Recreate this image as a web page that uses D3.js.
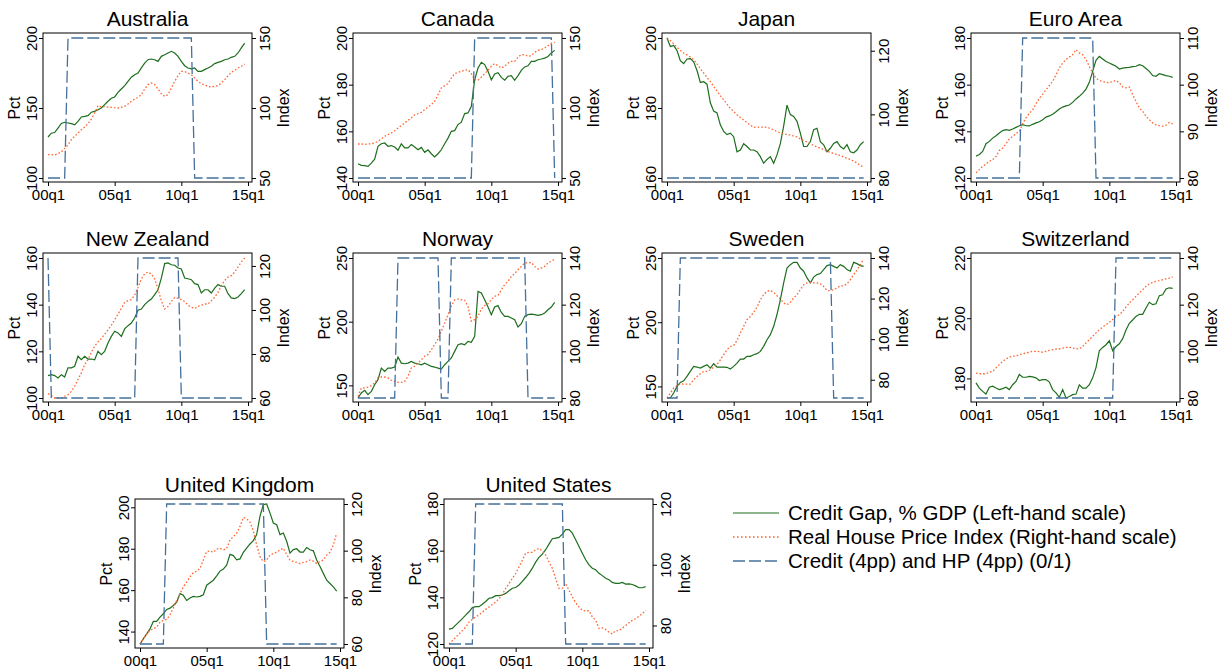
<!DOCTYPE html>
<html><head><meta charset="utf-8">
<script src="https://cdn.jsdelivr.net/npm/d3@7"></script>
<style>body{margin:0;background:#fff;} svg{display:block;}</style>
</head><body><svg id="c" width="1225" height="669"></svg>
<script>
// ---------- DATA ----------
const quarters = d3.range(60); // 2000q1 .. 2014q4
const xTicks = [0, 20, 40, 60];
const xTickLabels = ["00q1", "05q1", "10q1", "15q1"];
const countries = ["Australia","Canada","Japan","Euro Area","New Zealand","Norway","Sweden","Switzerland","United Kingdom","United States"];
const legendLabels = ["Credit Gap, % GDP (Left-hand scale)","Real House Price Index (Right-hand scale)","Credit (4pp) and HP (4pp) (0/1)"];

const ausCredit = [129.3,132,132.5,135.7,139,139.8,139.3,138.8,138,140.5,143.6,144,144.5,147,147.6,148.8,150,152.4,154.8,157,157.9,161.2,163.6,166,169,172,173.8,175,178.6,182,184.5,185,184.5,183.3,186.9,188,189.3,190.5,189.3,186.9,183.3,180.2,178.6,177.9,178.6,176.2,176.2,177.4,178.6,179.8,181.7,182.6,183.3,184.5,185,186.2,186.9,189.3,192.9,196.4];
const ausHP = [66.7,66.7,66.4,67.4,68.6,71,73.8,77.4,79.8,82.1,84.5,86.4,88.8,92.1,96.4,101.7,100.7,101,100.7,100.5,100.2,100,100.5,101.2,102.9,104.8,106.4,107.6,109.5,113.6,116.7,117.9,116.7,113.6,110.2,108.3,109.5,114.3,119,123.1,126.2,126,125,123.8,121.4,119,117.4,116.4,115.5,115,115.5,116,117.9,120.2,123.1,125.5,126.9,128.6,129.8,131.4];
const ausInd = [0,0,0,0,0,0,1,1,1,1,1,1,1,1,1,1,1,1,1,1,1,1,1,1,1,1,1,1,1,1,1,1,1,1,1,1,1,1,1,1,1,1,1,1,0,0,0,0,0,0,0,0,0,0,0,0,0,0,0,0];
const ausLeftTicks = [100,150,200], ausRightTicks = [50,100,150];

const canCredit = [146.1,145.4,145.3,145,146.4,148.1,153.6,154.7,155,153.6,153.9,153.3,151.9,154.6,152.9,152.9,154.3,153.3,152.1,153.1,151,152.1,150.4,149,150.4,152.1,154.7,157.1,160,160.3,162.9,163.9,167.6,167.9,170.7,182.1,187.1,189.6,188.6,185.7,182.1,184.6,185.1,183.1,181.9,183.6,183.9,181.9,183.9,186.1,187.6,188.1,190,190,190.7,191,191.4,192.1,193.6,194.7];
const canHP = [74.3,74.3,74,74.3,74.5,75,76.2,77.9,79.8,81,82.1,83.8,85.7,87.4,89.3,91.2,92.9,95.2,96,96.9,98.8,100.7,102.4,104.8,109.5,114.3,116,117.4,121.4,124.5,125.5,126.2,126.9,127.4,124.5,120.2,119.8,122.1,124.5,126.9,129.8,131.7,130.2,128.6,129.8,132.1,133.3,133.3,136.4,138.1,138.1,136.9,137.4,139.8,141.2,141.7,142.9,144.5,146.4,146.9];
const canInd = [0,0,0,0,0,0,0,0,0,0,0,0,0,0,0,0,0,0,0,0,0,0,0,0,0,0,0,0,0,0,0,0,0,0,0,1,1,1,1,1,1,1,1,1,1,1,1,1,1,1,1,1,1,1,1,1,1,1,1,0];
const canLeftTicks = [140,160,180,200], canRightTicks = [50,100,150];

const jpnCredit = [200,197.6,197.9,196.4,193.5,192.7,194,194.1,193.2,190.7,187.3,187.5,186.8,181.5,179.1,178.6,175.2,173.3,172.4,172.8,171.8,167.5,168,169.8,169,168,168,167.5,166.1,164.2,165.3,166.1,164.2,166.6,169.8,174.8,180.8,178.1,177.6,176.2,172.8,169,169,170.4,173.8,174.2,170.4,169.5,167.5,168.5,169.9,170.4,169,168.3,169.5,167.5,167.2,168,169.5,170.4];
const jpnHP = [124,123.2,122.2,121.1,120.1,119.3,118.7,118,117.2,115.9,114.3,113,111.6,110.3,108.8,107.4,105.8,104.6,103.2,101.9,100.9,99.9,99,98.2,97.4,96.6,95.9,96,96,96,95.9,95.6,95.1,94.6,94.2,93.9,93.7,93.5,93.2,92.9,92.3,91.8,91.3,90.8,90.2,89.8,89.3,89,88.4,88.1,87.7,87.4,87.1,86.6,86.2,85.8,85.3,84.7,83.9,83.5];
const jpnInd = [0,0,0,0,0,0,0,0,0,0,0,0,0,0,0,0,0,0,0,0,0,0,0,0,0,0,0,0,0,0,0,0,0,0,0,0,0,0,0,0,0,0,0,0,0,0,0,0,0,0,0,0,0,0,0,0,0,0,0,0];
const jpnLeftTicks = [160,180,200], jpnRightTicks = [80,100,120];

const eurCredit = [129.3,130.1,131.4,134.7,135.7,137.1,138.1,139.3,140.3,140.7,140.4,141,141.7,142.4,142.9,142.4,142.3,143,143.6,144.1,145,146.1,146.6,147.3,148.4,149.6,150.4,150.9,151.3,152.4,153.9,155,156.4,158.1,161,165.7,170.4,172.1,171,169.9,169.3,168.6,167.9,166.7,167.1,167.3,167.4,167.7,167.9,168.6,168.1,166.9,165.7,163.9,163.6,164.7,164.3,163.9,163.6,163.1];
const eurHP = [81.1,81.8,82.5,83,83.6,83.9,84.6,85.9,86.4,87.3,88.4,88.9,89.5,90,91.6,92.9,93.9,94.6,95.9,97.1,97.9,98.9,99.8,100.7,102.1,103.6,104.6,105.4,105.9,106.4,107.5,106.8,106.4,105.4,103.9,102.5,101.4,100.9,100.7,100.5,100.4,100.7,100.9,100.4,99.5,99.3,99.5,97.9,96.4,95,94.3,93.2,92.5,91.8,91.4,91.2,91.1,91.3,91.9,91.6];
const eurInd = [0,0,0,0,0,0,0,0,0,0,0,0,0,0,1,1,1,1,1,1,1,1,1,1,1,1,1,1,1,1,1,1,1,1,1,1,0,0,0,0,0,0,0,0,0,0,0,0,0,0,0,0,0,0,0,0,0,0,0,0];
const eurLeftTicks = [120,140,160,180], eurRightTicks = [80,90,100,110];

const nzlCredit = [109.6,110,109.6,108.6,110,109,112.9,112.9,113.6,117.9,116.4,117.9,116.7,116.7,116.4,120,118.6,120,123.6,126.4,128.6,127.9,126.4,129.6,131,132.1,134.3,137.6,138.1,140,141.4,142.4,144.3,146.4,151.4,157.6,157.9,157.1,156.9,155.7,155.3,151.4,151.1,150.7,149,148.6,145,146.4,146.4,145,147.1,148.6,147.9,147.9,144.7,142.9,142.6,143.3,144.7,146.4];
const nzlHP = [62,61.1,60,60,60,60.8,61.5,63,65.3,68.4,71.4,75.2,77.5,80.6,83.6,85.5,87,89,90.9,93.1,95.5,98.1,100.7,103.4,104.2,104.7,106.8,110.3,114.1,116.4,117.2,116.4,114.1,109.5,104.2,100.4,101.6,103.8,105.7,105.3,104.7,103.8,102.2,101.2,100.7,101.6,102.2,102.7,102.7,104.2,105.7,108,111.1,113.4,114.9,115.6,117.2,119.5,121.8,123.6];
const nzlInd = [1,0,0,0,0,0,0,0,0,0,0,0,0,0,0,0,0,0,0,0,0,0,0,0,0,0,0,1,1,1,1,1,1,1,1,1,1,1,1,1,0,0,0,0,0,0,0,0,0,0,0,0,0,0,0,0,0,0,0,0];
const nzlLeftTicks = [100,120,140,160], nzlRightTicks = [60,80,100,120];

const norCredit = [140.1,144,146.1,142.7,145.3,150.5,154.5,163.6,161,163.6,163.6,164.4,172.3,167.5,167,167.5,168.8,167.5,167,166.2,167.5,166.2,164.9,164.4,163.6,162.8,166.2,168.8,171.5,176.7,181.9,182.7,181.9,184.6,183.8,188.5,223.8,222.5,217.3,211.5,205.5,211.5,212.6,207.3,204.2,204.2,202.9,201.6,195.8,198.4,204.2,205.5,206,205.5,205,205.5,206.8,209.4,211.5,215.2];
const norHP = [80.7,84.3,84.3,84.7,85.3,86.4,88.6,89,89,88.6,87.6,87.1,86.7,86.7,87.1,89.3,92.9,93.6,95,96.4,97.9,98.6,100.7,102.9,105.3,108.6,112.1,115.7,119.3,122.1,122.4,122.1,121.9,119.3,112.9,113.6,115,118.1,119.6,120.4,122.1,123.6,123.9,126.4,128.6,130,132.1,133.3,135,136.4,137.9,137.9,138.1,136.4,135.3,135.7,136.4,137.9,138.6,139.6];
const norInd = [0,0,0,0,0,0,0,0,0,0,0,0,1,1,1,1,1,1,1,1,1,1,1,1,1,0,0,0,1,1,1,1,1,1,1,1,1,1,1,1,1,1,1,1,1,1,1,1,1,1,1,0,0,0,0,0,0,0,0,0];
const norLeftTicks = [150,200,250], norRightTicks = [80,100,120,140];

const sweCredit = [141,141,144.9,150,153.1,154.4,157.8,161.7,165.6,165.1,164.3,165.6,166.9,164.3,167.7,165.1,165.1,165.1,164.9,163.6,165.6,168.2,171.3,171.3,173.4,173.4,174.7,175.5,177.3,181.2,186.4,190.3,196.8,206,217.4,230.6,242.2,244.8,246.6,246.6,242.2,239.7,234.5,230.6,235.1,237.1,237.9,241,244.1,244.8,243.5,242.2,244.8,243.5,241,239.7,246.6,245.6,244.1,243.5];
const sweHP = [71,73.4,75.9,77,78,77.8,77.8,77.8,80,81.6,82.9,84.1,84.1,84.9,86.2,87.4,89.8,92.3,94.8,96.4,96.9,99.4,103,106.3,109.6,111.2,113.2,115.8,119.4,121.9,123.6,124,123.1,121.4,119.8,117.8,117,118.1,120.3,121.9,124.4,126.8,127.7,128,127.7,127.7,127.3,126,124,123.9,124.4,125.2,126.3,126.3,127.3,129.3,131.8,134.2,136.7,139.5];
const sweInd = [0,0,0,0,1,1,1,1,1,1,1,1,1,1,1,1,1,1,1,1,1,1,1,1,1,1,1,1,1,1,1,1,1,1,1,1,1,1,1,1,1,1,1,1,1,1,1,1,1,1,0,0,0,0,0,0,0,0,0,0];
const sweLeftTicks = [150,200,250], sweRightTicks = [80,100,120,140];

const cheCredit = [178.5,176.8,175.7,174.8,177.1,177.4,176.8,176.3,176.6,177.1,176.3,177.9,179,181.3,180.4,180.4,180.7,180.5,180.2,179.3,179.6,179.6,178.8,176.3,175.2,173.7,176.3,173.5,174,174.6,174.8,177.9,176.8,176.8,177.9,180.2,183.6,189.2,190.3,191.2,192.5,189.2,190.6,191.5,193.2,196.1,198.3,199.4,200.6,201.3,201.3,203.4,205.3,204.5,204.8,207.5,207.8,209.7,210.1,209.9];
const cheHP = [90.7,90.4,90.4,90.4,91,91.4,92.9,94.3,95.7,96.7,97.6,97.9,98.1,98.6,98.9,99.3,99.6,100,100,99.9,99.6,100,100.4,100.7,101,101,101.4,101.7,101.7,101.4,101.1,101,102.1,103.6,105,106.4,107.9,109.3,110.4,111.4,112.4,113.6,115,115.7,117.1,119,120.7,122.1,123.6,125,126.4,127.9,128.9,129.6,130,130.3,130.7,131.1,131.4,131.9];
const cheInd = [0,0,0,0,0,0,0,0,0,0,0,0,0,0,0,0,0,0,0,0,0,0,0,0,0,0,0,0,0,0,0,0,0,0,0,0,0,0,0,0,0,0,1,1,1,1,1,1,1,1,1,1,1,1,1,1,1,1,1,1];
const cheLeftTicks = [180,200,220], cheRightTicks = [80,100,120,140];

const gbrCredit = [134,136.5,138.9,141.3,144.9,144.9,147,148.6,150.7,151.3,152.6,154.2,158.3,157.5,155,156.2,157,156.7,157,157.8,162.4,163.6,164.8,166.9,169.2,170.2,172.1,177.3,176.7,174.6,175.1,178.3,180.3,182.3,183.9,186.8,195.7,201.3,201.6,197.2,192.4,191.6,186.8,187.6,183.6,177.9,179.6,180,178.4,178.4,180.6,179.5,179,174.6,171.4,168.1,164.8,163.2,161.6,159.5];
const gbrHP = [60,62.2,64.3,65.8,66.5,67.2,69.4,70.1,70.5,72.5,75.4,78.7,81.6,84.5,86.6,88.8,90.6,91.2,92.4,96,99.6,99.9,99.3,100.7,101,100.3,101,104.6,106,107.5,110.4,114.2,113.7,112.2,108.5,102.4,97.4,95.3,96,98.1,98.8,99.3,100.3,101,98.4,96,95.3,95,94.5,95,95.3,96,95.5,94.5,95.3,96,98.1,99.3,102.4,107.5];
const gbrInd = [0,0,0,0,0,0,0,0,1,1,1,1,1,1,1,1,1,1,1,1,1,1,1,1,1,1,1,1,1,1,1,1,1,1,1,1,1,1,0,0,0,0,0,0,0,0,0,0,0,0,0,0,0,0,0,0,0,0,0,0];
const gbrLeftTicks = [140,160,180,200], gbrRightTicks = [60,80,100,120];

const usaCredit = [126.4,126.7,128.1,129.5,130.9,132.4,133.8,135.6,136,136,137,138.2,139.6,139.9,140.7,140.7,141,141.7,142.8,143.9,144.2,145.3,146.8,148.5,150.3,152.5,155.1,157.1,158.5,160.4,162.8,165.1,165.4,165.7,167.1,169,169,167.5,164.7,161.8,158.9,156.1,153.9,152.5,151.8,150.3,149.3,148.2,147.5,146.4,146,146,146.4,145.7,145.8,145.5,144.9,144.1,144.1,144.6];
const usaHP = [73.9,75,76.1,77.2,78.3,79.4,81.1,82,82.8,83.5,84.4,85.3,86.1,86.9,87.7,88.8,90.2,92.2,93.8,95.5,97.1,99.3,101.5,103.8,104.1,104.1,104.9,105.4,104.5,103.2,101,98.8,95.5,92.2,92.2,93.8,91.6,89.4,87.5,86.1,85,84.8,84.9,82.8,81.7,79,79.2,78.7,77.8,77.2,78.3,78.3,79.1,80,80.9,81.7,82.2,83.1,83.9,85];
const usaInd = [0,0,0,0,0,0,0,0,1,1,1,1,1,1,1,1,1,1,1,1,1,1,1,1,1,1,1,1,1,1,1,1,1,1,1,0,0,0,0,0,0,0,0,0,0,0,0,0,0,0,0,0,0,0,0,0,0,0,0,0];
const usaLeftTicks = [120,140,160,180], usaRightTicks = [80,100,120];

// ---------- STYLE / LAYOUT ----------
const FONT = '"Liberation Sans", Arial, Helvetica, sans-serif';
const GREEN = "#1d6e1d", ORANGE = "#ff6633", BLUE = "#46709c";
const W = 209, H = 149;
const colLefts = [43, 353, 662, 971];
const rowTops = [33, 253, 499];
const row3Lefts = [135, 444];

const panels = [
  {credit: ausCredit, hp: ausHP, ind: ausInd, lt: ausLeftTicks, rt: ausRightTicks},
  {credit: canCredit, hp: canHP, ind: canInd, lt: canLeftTicks, rt: canRightTicks},
  {credit: jpnCredit, hp: jpnHP, ind: jpnInd, lt: jpnLeftTicks, rt: jpnRightTicks},
  {credit: eurCredit, hp: eurHP, ind: eurInd, lt: eurLeftTicks, rt: eurRightTicks},
  {credit: nzlCredit, hp: nzlHP, ind: nzlInd, lt: nzlLeftTicks, rt: nzlRightTicks},
  {credit: norCredit, hp: norHP, ind: norInd, lt: norLeftTicks, rt: norRightTicks},
  {credit: sweCredit, hp: sweHP, ind: sweInd, lt: sweLeftTicks, rt: sweRightTicks},
  {credit: cheCredit, hp: cheHP, ind: cheInd, lt: cheLeftTicks, rt: cheRightTicks},
  {credit: gbrCredit, hp: gbrHP, ind: gbrInd, lt: gbrLeftTicks, rt: gbrRightTicks},
  {credit: usaCredit, hp: usaHP, ind: usaInd, lt: usaLeftTicks, rt: usaRightTicks}
];

const svg = d3.select("#c").attr("font-family", FONT);

function drawPanel(p, name, left, top) {
  const g = svg.append("g").attr("transform", `translate(${left},${top})`);
  const x = d3.scaleLinear().domain([0, 60]).range([5, 205]);
  const lDom = [Math.min(d3.min(p.credit), d3.min(p.lt)), Math.max(d3.max(p.credit), d3.max(p.lt))];
  const rDom = [Math.min(d3.min(p.hp), d3.min(p.rt)), Math.max(d3.max(p.hp), d3.max(p.rt))];
  const yL = d3.scaleLinear().domain(lDom).range([H - 4, 5]);
  const yR = d3.scaleLinear().domain(rDom).range([H - 4, 5]);
  const yI = d3.scaleLinear().domain([0, 1]).range([H - 4, 5]);
  const mk = ys => d3.line().x((d, i) => x(quarters[i])).y(d => ys(d));

  g.append("path").attr("d", mk(yL)(p.credit)).attr("fill", "none")
    .attr("stroke", GREEN).attr("stroke-width", 1.2);
  g.append("path").attr("d", mk(yR)(p.hp)).attr("fill", "none")
    .attr("stroke", ORANGE).attr("stroke-width", 1.3).attr("stroke-dasharray", "1.6,2");
  g.append("path").attr("d", mk(yI)(p.ind)).attr("fill", "none")
    .attr("stroke", BLUE).attr("stroke-width", 1.3).attr("stroke-dasharray", "12,4");

  g.append("rect").attr("x", 0).attr("y", 0).attr("width", W).attr("height", H)
    .attr("fill", "none").attr("stroke", "#000").attr("stroke-width", 1);

  const xa = g.append("g").attr("transform", `translate(0,${H})`)
    .call(d3.axisBottom(x).tickValues(xTicks).tickFormat((d, i) => xTickLabels[i]).tickSize(4).tickPadding(3));
  xa.select(".domain").remove();
  xa.attr("font-size", 15).attr("font-family", FONT);
  xa.selectAll("text").attr("fill", "#000");

  const la = g.append("g").call(d3.axisLeft(yL).tickValues(p.lt).tickSize(4).tickFormat(d3.format("d")));
  la.select(".domain").remove();
  la.attr("font-size", 15).attr("font-family", FONT);
  la.selectAll("text").attr("x", 0).attr("dy", 0).attr("text-anchor", "middle")
    .attr("transform", "translate(-6,0) rotate(-90)").attr("fill", "#000");

  const ra = g.append("g").attr("transform", `translate(${W},0)`)
    .call(d3.axisRight(yR).tickValues(p.rt).tickSize(4).tickFormat(d3.format("d")));
  ra.select(".domain").remove();
  ra.attr("font-size", 15).attr("font-family", FONT);
  ra.selectAll("text").attr("x", 0).attr("dy", 0).attr("text-anchor", "middle")
    .attr("transform", "translate(18,0) rotate(-90)").attr("fill", "#000");

  const cy = (H - 4 + 5) / 2;
  g.append("text").attr("transform", `translate(-23,${cy}) rotate(-90)`).attr("text-anchor", "middle")
    .attr("font-size", 16).text("Pct");
  g.append("text").attr("transform", `translate(${W + 37},${cy}) rotate(-90)`).attr("text-anchor", "middle")
    .attr("font-size", 16).text("Index");
  g.append("text").attr("x", W / 2).attr("y", -7).attr("text-anchor", "middle")
    .attr("font-size", 21).text(name);
}

panels.forEach((p, i) => {
  let left, top;
  if (i < 8) { left = colLefts[i % 4]; top = rowTops[Math.floor(i / 4)]; }
  else { left = row3Lefts[i - 8]; top = rowTops[2]; }
  drawPanel(p, countries[i], left, top);
});

// legend
const legendStyles = [
  {stroke: GREEN, dash: null, w: 1.2},
  {stroke: ORANGE, dash: "1.6,2.4", w: 1.3},
  {stroke: BLUE, dash: "12,4", w: 1.3}
];
const lg = svg.append("g").attr("transform", "translate(733,513)");
legendLabels.forEach((t, i) => {
  const s = legendStyles[i];
  lg.append("line").attr("x1", 0).attr("x2", 46).attr("y1", i * 24).attr("y2", i * 24)
    .attr("stroke", s.stroke).attr("stroke-width", s.w).attr("stroke-dasharray", s.dash);
  lg.append("text").attr("x", 55).attr("y", i * 24 + 7).attr("font-size", 20.5).text(t);
});
</script>
</body></html>
